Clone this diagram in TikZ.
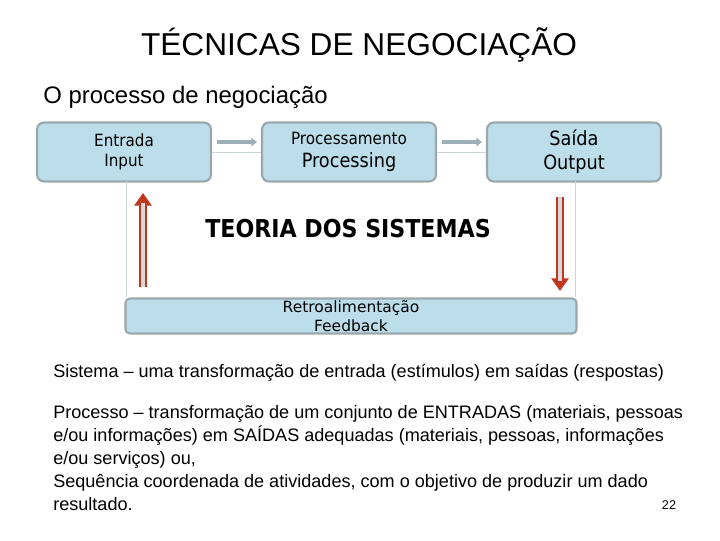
\documentclass[tikz,border=0pt]{standalone}
\usepackage{fontspec}
\setmainfont{Liberation Sans}
\newfontfamily\boxfont{DejaVu Sans Condensed}
\newfontfamily\fbfont{DejaVu Sans}
\usetikzlibrary{arrows.meta}
\definecolor{rarr}{RGB}{190,55,30}
\begin{document}
\begin{tikzpicture}[x=0.025cm,y=-0.025cm,
  blk/.style={draw=gray!70!cyan!60!black!60,line width=1.5pt,rounded corners=5pt,fill=cyan!25!white!85!gray,align=center,inner sep=0pt},
  thin/.style={draw=cyan!20!gray!40,line width=0.5pt},
  garrow/.style={draw=gray!60!cyan!70!black!60,line width=2.5pt,-{Triangle[length=4pt,width=6pt]}},
  rarrow/.style={draw=rarr,line width=6pt,-{Triangle[length=9pt,width=12pt]},postaction={draw=gray!30,line width=3.5pt,shorten >=7pt,-}}]
\useasboundingbox (0,0) rectangle (720,540);
\node[blk,minimum width=174*0.025cm,minimum height=59*0.025cm,font=\boxfont\fontsize{12}{14}\selectfont] (in) at (124,152) {Entrada\\Input};
\node[blk,minimum width=174*0.025cm,minimum height=59*0.025cm,font=\boxfont\fontsize{12}{16}\selectfont] (pr) at (349,152) {Processamento\\{\fontsize{14}{16}\selectfont Processing}};
\node[blk,minimum width=174*0.025cm,minimum height=59*0.025cm,font=\boxfont\fontsize{14}{17}\selectfont] (out) at (574,152) {Saída\\Output};
\node[blk,minimum width=451*0.025cm,minimum height=35*0.025cm,font=\fbfont\fontsize{11}{14}\selectfont,rounded corners=3pt] (fb) at (351,316) {Retroalimentação\\Feedback};
\coordinate (l1) at (126,181); \coordinate (l2) at (126,297);
\coordinate (r1) at (575,181); \coordinate (r2) at (575,297);
\draw[thin] (l1) -- (l2); \draw[thin] (r1) -- (r2);
\draw[thin] (in.east) -- (pr.west); \draw[thin] (pr.east) -- (out.west);
\coordinate (a1) at (217,142); \coordinate (a2) at (257,142);
\coordinate (a3) at (442,142); \coordinate (a4) at (482,142);
\draw[garrow] (a1) -- (a2); \draw[garrow] (a3) -- (a4);
\coordinate (u1) at (143,287); \coordinate (u2) at (143,193);
\coordinate (d1) at (560,197); \coordinate (d2) at (560,291);
\draw[rarrow] (u1) -- (u2); \draw[rarrow] (d1) -- (d2);
\node[font=\fontsize{22.5}{26}\selectfont] (title) at (359,45) {TÉCNICAS DE NEGOCIAÇÃO};
\node[anchor=west,inner sep=0pt,font=\fontsize{17}{20}\selectfont] (sub) at (43,97) {O processo de negociação};
\node[font=\boxfont\bfseries\fontsize{17.5}{20}\selectfont] (teo) at (348,229) {TEORIA DOS SISTEMAS};
\node[anchor=west,inner sep=0pt,font=\fontsize{12.85}{15}\selectfont] (s1) at (53,373) {Sistema – uma transformação de entrada (estímulos) em saídas (respostas)};
\node[anchor=north west,inner sep=0pt,align=left,font=\fontsize{12.85}{16.4}\selectfont] (s2) at (53,405) {Processo – transformação de um conjunto de ENTRADAS (materiais, pessoas\\e/ou informações) em SAÍDAS adequadas (materiais, pessoas, informações\\e/ou serviços) ou,\\Sequência coordenada de atividades, com o objetivo de produzir um dado\\resultado.};
\node[font=\fontsize{9}{11}\selectfont] (num) at (669,505) {22};
\end{tikzpicture}
\end{document}
